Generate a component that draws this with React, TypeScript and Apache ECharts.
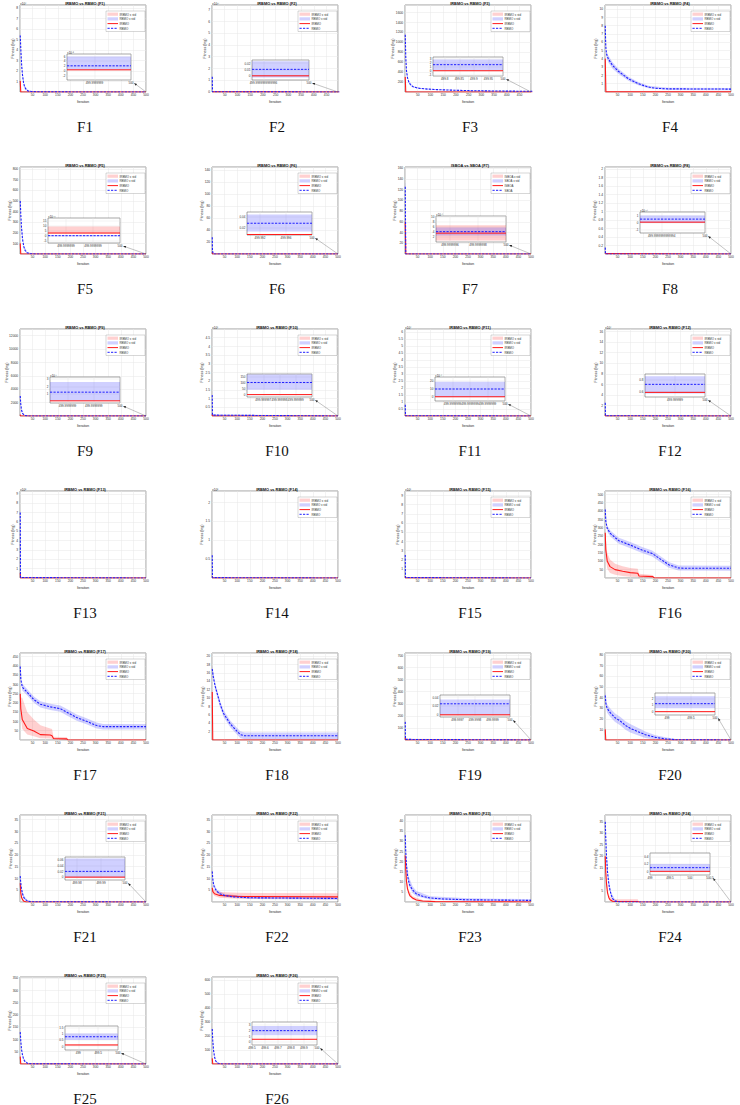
import { useEffect, useRef } from "react";
import * as echarts from "echarts";

// ---- convergence curves: [iteration, mean] and bands: [iteration, low, high] ----
const F1_RBMO = [[1, 5.4], [3, 4.2], [5, 3.2], [7, 2.4], [10, 1.6], [14, 0.9], [18, 0.5], [24, 0.25], [32, 0.1], [45, 0.04], [80, 0.01], [500, 0]];
const F1_RBMO_SD = [[1, 5.0, 5.8], [5, 2.8, 3.6], [10, 1.3, 1.9], [18, 0.35, 0.65], [32, 0.05, 0.15], [80, 0, 0.02], [500, 0, 0]];
const F1_IRBMO = [[1, 1.05], [2.5, 1.05], [3, 0], [500, 0]];
const F1_IRBMO_SD = [[1, 0.9, 1.2], [2.5, 0.9, 1.2], [3, 0, 0], [500, 0, 0]];

const F2_RBMO = [[1, 1.3], [2, 0.02], [500, 0]];
const F2_RBMO_SD = [[1, 1.25, 1.35], [2, 0, 0.03], [500, 0, 0]];
const F2_IRBMO = [[1, 0.01], [500, 0]];
const F2_IRBMO_SD = [[1, 0, 0.02], [500, 0, 0]];

const F3_RBMO = [[1, 1150], [3, 700], [6, 420], [10, 280], [15, 200], [22, 140], [32, 105], [45, 85], [60, 72], [90, 58], [125, 48], [190, 36], [260, 27], [350, 20], [500, 14]];
const F3_RBMO_SD = [[1, 1100, 1200], [6, 390, 450], [15, 180, 220], [32, 90, 120], [60, 62, 82], [125, 40, 56], [260, 21, 33], [500, 10, 18]];
const F3_IRBMO = [[1, 300], [2, 300], [3, 2], [500, 0]];
const F3_IRBMO_SD = [[1, 280, 320], [2, 280, 320], [3, 0, 5], [500, 0, 0]];

const F4_RBMO = [[1, 8], [3, 5.5], [6, 4.6], [13, 4.0], [30, 3.2], [53, 2.5], [93, 1.6], [132, 1.0], [172, 0.6], [200, 0.45], [250, 0.38], [500, 0.35]];
const F4_RBMO_SD = [[1, 7.6, 8.4], [6, 4.2, 5.0], [13, 3.6, 4.4], [30, 2.8, 3.6], [53, 2.2, 2.8], [93, 1.35, 1.85], [132, 0.8, 1.2], [172, 0.45, 0.75], [250, 0.25, 0.5], [500, 0.22, 0.48]];
const F4_IRBMO = [[1, 4], [3, 4], [3.5, 0.02], [500, 0.01]];
const F4_IRBMO_SD = [[1, 0.2, 4.1], [4, 0.2, 4.1], [4.5, 0, 0.02], [500, 0, 0.02]];

const F5_RBMO = [[1, 500], [3, 380], [6, 250], [10, 140], [15, 70], [20, 35], [28, 12], [40, 3], [60, 0.5], [500, 0]];
const F5_RBMO_SD = [[1, 470, 530], [6, 225, 275], [15, 55, 85], [28, 6, 18], [60, 0, 1], [500, 0, 0]];
const F5_IRBMO = [[1, 100], [2, 100], [3, 0], [500, 0]];
const F5_IRBMO_SD = [[1, 90, 110], [2, 90, 110], [3, 0, 0], [500, 0, 0]];

const F6_RBMO = [[1, 28], [2, 5], [4, 1], [10, 0], [500, 0]];
const F6_RBMO_SD = [[1, 24, 32], [2, 3, 7], [10, 0, 0], [500, 0, 0]];
const F6_IRBMO = [[1, 3], [2, 0], [500, 0]];
const F6_IRBMO_SD = [[1, 2, 4], [2, 0, 0], [500, 0, 0]];

const F7_SBOA = [[1, 125], [2, 125], [3, 0], [500, 0]];
const F7_SBOA_SD = [[1, 118, 132], [2, 118, 132], [3, 0, 0], [500, 0, 0]];
const F7_ISBOA = [[1, 60], [2, 60], [3, 0], [500, 0]];
const F7_ISBOA_SD = [[1, 52, 68], [2, 52, 68], [3, 0, 0], [500, 0, 0]];

const F8_RBMO = [[1, 0.15], [2, 0], [500, 0]];
const F8_RBMO_SD = [[1, 0.12, 0.18], [2, 0, 0], [500, 0, 0]];
const F8_IRBMO = [[1, 0.01], [2, 0], [500, 0]];
const F8_IRBMO_SD = [[1, 0, 0.02], [2, 0, 0], [500, 0, 0]];

const F9_RBMO = [[1, 3000], [3, 1800], [6, 900], [10, 400], [18, 100], [30, 10], [500, 0]];
const F9_RBMO_SD = [[1, 2800, 3200], [6, 800, 1000], [18, 70, 130], [30, 0, 20], [500, 0, 0]];
const F9_IRBMO = [[1, 200], [2, 0], [500, 0]];
const F9_IRBMO_SD = [[1, 150, 250], [2, 0, 0], [500, 0, 0]];

const F10_RBMO = [[1, 1.2], [2, 0.05], [500, 0]];
const F10_RBMO_SD = [[1, 1.1, 1.3], [2, 0, 0.1], [500, 0, 0]];
const F10_IRBMO = [[1, 0.1], [2, 0], [500, 0]];
const F10_IRBMO_SD = [[1, 0.05, 0.15], [2, 0, 0], [500, 0, 0]];

const F11_RBMO = [[1, 0.8], [2, 0.02], [500, 0]];
const F11_RBMO_SD = [[1, 0.7, 0.9], [2, 0, 0.04], [500, 0, 0]];
const F11_IRBMO = [[1, 0.1], [2, 0], [500, 0]];
const F11_IRBMO_SD = [[1, 0.05, 0.15], [2, 0, 0], [500, 0, 0]];

const F12_RBMO = [[1, 2.5], [2, 0.05], [500, 0]];
const F12_RBMO_SD = [[1, 2.3, 2.7], [2, 0, 0.1], [500, 0, 0]];
const F12_IRBMO = [[1, 0.3], [2, 0], [500, 0]];
const F12_IRBMO_SD = [[1, 0.2, 0.4], [2, 0, 0], [500, 0, 0]];

const F13_RBMO = [[1, 7], [2, 0.05], [500, 0]];
const F13_RBMO_SD = [[1, 6.5, 7.5], [2, 0, 0.1], [500, 0, 0]];
const F13_IRBMO = [[1, 0.5], [2, 0], [500, 0]];
const F13_IRBMO_SD = [[1, 0.3, 0.7], [2, 0, 0], [500, 0, 0]];

const F14_RBMO = [[1, 0.6], [2, 0.01], [500, 0]];
const F14_RBMO_SD = [[1, 0.55, 0.65], [2, 0, 0.02], [500, 0, 0]];
const F14_IRBMO = [[1, 0.05], [2, 0], [500, 0]];
const F14_IRBMO_SD = [[1, 0.03, 0.07], [2, 0, 0], [500, 0, 0]];

const F15_RBMO = [[1, 2.5], [2, 0.05], [500, 0]];
const F15_RBMO_SD = [[1, 2.3, 2.7], [2, 0, 0.1], [500, 0, 0]];
const F15_IRBMO = [[1, 0.2], [2, 0], [500, 0]];
const F15_IRBMO_SD = [[1, 0.1, 0.3], [2, 0, 0], [500, 0, 0]];

const F16_RBMO = [[1, 409], [3, 340], [9, 295], [22, 265], [55, 223], [108, 192], [147, 167], [187, 147], [213, 120], [253, 79], [292, 60], [320, 58], [500, 58]];
const F16_RBMO_SD = [[1, 390, 428], [9, 277, 313], [22, 247, 283], [55, 205, 241], [108, 174, 210], [147, 149, 185], [187, 129, 165], [213, 102, 138], [253, 62, 96], [292, 45, 75], [500, 43, 73]];
const F16_IRBMO = [[1, 270], [3, 170], [9, 100], [20, 68], [40, 50], [70, 40], [100, 32], [130, 28], [135, 12], [190, 8], [195, 1], [500, 0]];
const F16_IRBMO_SD = [[1, 240, 300], [3, 120, 230], [9, 55, 150], [20, 30, 110], [40, 20, 85], [70, 12, 70], [100, 8, 60], [130, 6, 55], [135, 2, 25], [190, 1, 18], [195, 0, 2], [500, 0, 0]];

const F17_RBMO = [[1, 397], [3, 330], [9, 286], [29, 257], [55, 218], [81, 193], [120, 179], [160, 169], [186, 150], [225, 121], [264, 101], [304, 78], [330, 72], [500, 72]];
const F17_RBMO_SD = [[1, 380, 414], [9, 268, 304], [29, 240, 274], [55, 201, 235], [81, 176, 210], [120, 162, 196], [160, 152, 186], [186, 133, 167], [225, 104, 138], [264, 85, 117], [304, 62, 94], [330, 57, 87], [500, 57, 87]];
const F17_IRBMO = [[1, 250], [3, 170], [9, 111], [29, 62], [55, 49], [81, 29], [120, 27], [127, 23], [133, 8], [186, 6], [190, 0], [500, 0]];
const F17_IRBMO_SD = [[1, 225, 275], [3, 130, 230], [9, 60, 228], [29, 30, 150], [55, 20, 111], [81, 10, 80], [120, 8, 62], [127, 6, 60], [133, 1, 18], [186, 0, 15], [190, 0, 0], [500, 0, 0]];

const F18_RBMO = [[1, 16.9], [5, 15], [13, 12.7], [33, 8.4], [46, 6.3], [73, 3.8], [99, 2.1], [112, 1.3], [130, 1.0], [500, 1.0]];
const F18_RBMO_SD = [[1, 16.1, 17.7], [13, 11.9, 13.5], [33, 7.6, 9.2], [46, 5.5, 7.1], [73, 3.0, 4.6], [99, 1.3, 2.9], [112, 0.5, 2.1], [130, 0.2, 1.8], [500, 0.2, 1.8]];
const F18_IRBMO = [[1, 11.4], [2.5, 11.4], [3, 0], [500, 0]];
const F18_IRBMO_SD = [[1, 10.8, 12], [2.5, 10.8, 12], [3, 0, 0], [500, 0, 0]];

const F19_RBMO = [[1, 150], [2, 5], [500, 0]];
const F19_RBMO_SD = [[1, 135, 165], [2, 0, 10], [500, 0, 0]];
const F19_IRBMO = [[1, 20], [2, 0], [500, 0]];
const F19_IRBMO_SD = [[1, 15, 25], [2, 0, 0], [500, 0, 0]];

const F20_RBMO = [[1, 42], [3, 35], [8, 30], [20, 26], [40, 21], [60, 18], [80, 14], [100, 11], [130, 8], [160, 5], [200, 2.5], [240, 1], [280, 0.3], [500, 0]];
const F20_RBMO_SD = [[1, 38, 46], [8, 26, 34], [20, 22, 30], [40, 17, 25], [60, 14, 22], [80, 10, 18], [100, 7, 15], [130, 4.5, 11.5], [160, 2, 8], [200, 0.5, 4.5], [240, 0, 2.5], [280, 0, 1], [500, 0, 0]];
const F20_IRBMO = [[1, 10], [2, 10], [3, 0], [500, 0]];
const F20_IRBMO_SD = [[1, 8, 12], [2, 8, 12], [3, 0, 0], [500, 0, 0]];

const F21_RBMO = [[1, 11], [3, 8], [6, 5.5], [10, 3.5], [15, 2], [22, 1], [30, 0.4], [45, 0.1], [500, 0]];
const F21_RBMO_SD = [[1, 10, 12], [6, 4.5, 6.5], [15, 1.3, 2.7], [30, 0.1, 0.8], [45, 0, 0.2], [500, 0, 0]];
const F21_IRBMO = [[1, 8], [3, 4], [6, 2], [10, 1], [16, 0.3], [25, 0], [500, 0]];
const F21_IRBMO_SD = [[1, 7, 9], [3, 3, 5], [6, 1.3, 2.7], [10, 0.5, 1.5], [16, 0, 0.6], [25, 0, 0], [500, 0, 0]];

const F22_RBMO = [[1, 13], [3, 10], [6, 7.5], [10, 6], [20, 4.5], [30, 3.5], [50, 2.8], [80, 2.2], [150, 1.8], [500, 1.5]];
const F22_RBMO_SD = [[1, 12, 14], [6, 6.7, 8.3], [20, 3.8, 5.2], [50, 2.2, 3.4], [150, 1.3, 2.3], [500, 1.0, 2.0]];
const F22_IRBMO = [[1, 6], [3, 4.5], [10, 3.5], [30, 2.8], [100, 2.4], [500, 2.2]];
const F22_IRBMO_SD = [[1, 5, 7.5], [3, 3.5, 6], [10, 2.5, 5], [30, 1.8, 4.3], [100, 1.4, 3.9], [500, 1.2, 3.7]];

const F23_RBMO = [[1, 33], [3, 25], [6, 18], [10, 13], [15, 10], [20, 8], [30, 6], [45, 4], [70, 2.8], [100, 2], [150, 1.5], [250, 1.1], [500, 0.8]];
const F23_RBMO_SD = [[1, 31, 35], [6, 16, 20.5], [15, 8, 12.5], [30, 4.5, 7.8], [45, 2.8, 5.4], [100, 1.2, 2.9], [250, 0.5, 1.8], [500, 0.3, 1.4]];
const F23_IRBMO = [[1, 23], [3, 16], [6, 10], [10, 6.5], [15, 4.5], [20, 3], [30, 2], [45, 1], [70, 0.5], [120, 0.2], [500, 0]];
const F23_IRBMO_SD = [[1, 21, 25], [6, 8.5, 11.5], [15, 3.4, 5.8], [30, 1.2, 2.9], [70, 0.1, 1], [120, 0, 0.4], [500, 0, 0.1]];

const F24_RBMO = [[1, 35], [3, 28], [6, 20], [10, 13], [15, 8], [20, 5], [25, 3], [30, 1.5], [40, 0.4], [60, 0], [500, 0]];
const F24_RBMO_SD = [[1, 33, 37], [6, 18, 22], [15, 6.5, 9.5], [25, 2, 4], [40, 0, 1], [60, 0, 0], [500, 0, 0]];
const F24_IRBMO = [[1, 20], [3, 13], [6, 8], [10, 4], [15, 2], [20, 1], [30, 0.3], [40, 0.2], [130, 0.2], [135, 0], [500, 0]];
const F24_IRBMO_SD = [[1, 18, 22], [6, 6.5, 9.5], [15, 1, 3], [30, 0, 1.2], [130, 0, 1.2], [135, 0, 0], [500, 0, 0]];

const F25_RBMO = [[1, 130], [3, 95], [6, 60], [10, 35], [15, 18], [20, 9], [30, 3], [45, 0.5], [500, 0]];
const F25_RBMO_SD = [[1, 122, 138], [6, 54, 66], [15, 14, 22], [30, 1, 5], [45, 0, 1], [500, 0, 0]];
const F25_IRBMO = [[1, 30], [2, 30], [3, 0], [500, 0]];
const F25_IRBMO_SD = [[1, 25, 35], [2, 25, 35], [3, 0, 0], [500, 0, 0]];

const F26_RBMO = [[1, 250], [3, 170], [6, 100], [10, 50], [15, 20], [25, 5], [40, 0], [500, 0]];
const F26_RBMO_SD = [[1, 235, 265], [6, 90, 110], [15, 14, 26], [25, 2, 8], [40, 0, 0], [500, 0, 0]];
const F26_IRBMO = [[1, 40], [2, 40], [3, 0], [500, 0]];
const F26_IRBMO_SD = [[1, 35, 45], [2, 35, 45], [3, 0, 0], [500, 0, 0]];

// ---- magnified views of the final iterations ----
type Zoom = { yMin: number; yMax: number; yTicks: number[]; exp: string; xLabels: string[]; rbmo: number; rbmoSd: number[]; irbmo: number; irbmoSd: number[] };
const F1_ZOOM: Zoom = { yMin: -4, yMax: 7, yTicks: [-2, 0, 2, 4, 6], exp: "×10⁻⁸", xLabels: ["", "", "", "499.9999999", "", "", "", "500"], rbmo: 2, rbmoSd: [0.3, 5.9], irbmo: 0.3, irbmoSd: [0.2, 0.4] };
const F2_ZOOM: Zoom = { yMin: -0.006, yMax: 0.025, yTicks: [0, 0.01, 0.02], exp: "", xLabels: ["", "499.9999999999996", "", "", "", "500"], rbmo: 0.0105, rbmoSd: [-0.002, 0.023], irbmo: 0.0005, irbmoSd: [0, 0.001] };
const F3_ZOOM: Zoom = { yMin: -1.3, yMax: 3.4, yTicks: [-1, 0, 1, 2, 3], exp: "", xLabels: ["", "", "", "", "499.8", "", "", "", "", "499.85", "", "", "", "", "499.9", "", "", "", "", "499.95", "", "", "", "", "500"], rbmo: 1.5, rbmoSd: [0.1, 2.8], irbmo: 0, irbmoSd: [-0.05, 0.05] };
const F5_ZOOM: Zoom = { yMin: -7, yMax: 18, yTicks: [-5, 0, 5, 10, 15], exp: "×10⁻¹¹", xLabels: ["", "", "499.9999999", "", "", "499.9999999", "", "", "500"], rbmo: 0.3, rbmoSd: [-0.3, 0.8], irbmo: 3, irbmoSd: [2, 9.5] };
const F6_ZOOM: Zoom = { yMin: 0.005, yMax: 0.05, yTicks: [0.02, 0.04], exp: "", xLabels: ["", "499.992", "", "499.996", "", "500"], rbmo: 0.028, rbmoSd: [0.012, 0.045], irbmo: 0.006, irbmoSd: [0.005, 0.007] };
const F7_ZOOM: Zoom = { yMin: 0, yMax: 10.3, yTicks: [2, 4, 6, 8, 10], exp: "×10⁻⁴", xLabels: ["", "499.9999996", "", "499.9999998", "", "500"], rbmo: 4.1, rbmoSd: [2.6, 5.7], irbmo: 3.5, irbmoSd: [0.6, 6.6] };
const F8_ZOOM: Zoom = { yMin: -1.5, yMax: 1.6, yTicks: [-1, 0, 1], exp: "×10⁻¹⁶", xLabels: ["", "499.9999999999994", "", "500"], rbmo: 0.55, rbmoSd: [0, 1.1], irbmo: 0.1, irbmoSd: [0.05, 0.15] };
const F9_ZOOM: Zoom = { yMin: -0.3, yMax: 3.3, yTicks: [1, 2, 3], exp: "×10⁻⁵", xLabels: ["", "", "499.9999999", "", "", "499.9999999", "", "", "500"], rbmo: 1.2, rbmoSd: [0, 2.6], irbmo: 0, irbmoSd: [-0.02, 0.02] };
const F10_ZOOM: Zoom = { yMin: -20, yMax: 170, yTicks: [0, 50, 100, 150], exp: "", xLabels: ["", "499.999997", "499.999998", "499.999999", "500"], rbmo: 100, rbmoSd: [40, 165], irbmo: 0, irbmoSd: [-1, 1] };
const F11_ZOOM: Zoom = { yMin: -5, yMax: 25, yTicks: [0, 10, 20], exp: "×10⁻⁴", xLabels: ["", "499.9999999", "499.9999999", "499.9999999", "500"], rbmo: 10, rbmoSd: [0, 19], irbmo: 0.3, irbmoSd: [0, 0.6] };
const F12_ZOOM: Zoom = { yMin: 0.5, yMax: 0.9, yTicks: [0.6, 0.8], exp: "", xLabels: ["", "", "499.999999", "", "500"], rbmo: 0.72, rbmoSd: [0.56, 0.86], irbmo: 0.58, irbmoSd: [0.57, 0.59] };
const F19_ZOOM: Zoom = { yMin: -0.005, yMax: 0.045, yTicks: [0, 0.02, 0.04], exp: "", xLabels: ["", "499.9997", "499.9998", "499.9999", "500"], rbmo: 0.025, rbmoSd: [0, 0.035], irbmo: 0, irbmoSd: [-0.001, 0.001] };
const F20_ZOOM: Zoom = { yMin: -0.5, yMax: 2.8, yTicks: [0, 1, 2], exp: "", xLabels: ["", "499", "", "499.5", "", "500"], rbmo: 1.2, rbmoSd: [0.5, 2.3], irbmo: 0, irbmoSd: [-0.05, 0.05] };
const F21_ZOOM: Zoom = { yMin: -0.01, yMax: 0.07, yTicks: [0, 0.02, 0.04, 0.06], exp: "", xLabels: ["", "499.98", "", "499.99", "", "500"], rbmo: 0.02, rbmoSd: [0, 0.065], irbmo: 0, irbmoSd: [-0.001, 0.001] };
const F24_ZOOM: Zoom = { yMin: -0.1, yMax: 0.5, yTicks: [0, 0.2, 0.4], exp: "", xLabels: ["499", "499.5", "500", "500.5"], rbmo: 0.1, rbmoSd: [0, 0.2], irbmo: 0, irbmoSd: [-0.005, 0.005] };
const F25_ZOOM: Zoom = { yMin: -0.3, yMax: 1.6, yTicks: [0, 0.5, 1, 1.5], exp: "", xLabels: ["", "", "499", "", "", "499.5", "", "", "500"], rbmo: 0.75, rbmoSd: [0.5, 1.0], irbmo: 0.1, irbmoSd: [0.06, 0.14] };
const F26_ZOOM: Zoom = { yMin: -0.5, yMax: 3.5, yTicks: [0, 1, 2, 3], exp: "", xLabels: ["499.5", "499.6", "499.7", "499.8", "499.9", "500"], rbmo: 2, rbmoSd: [1.2, 2.8], irbmo: 0.5, irbmoSd: [0.45, 0.55] };

type Panel = {
  id: string; algo: string; base: string; yMax: number; yStep: number; yZero?: boolean; yExp: string; xMax: number;
  mean: number[][]; band: number[][]; imean: number[][]; iband: number[][]; zoom?: Zoom; noLegend?: boolean;
};

const PANELS: Panel[] = [
  { id: "F1", algo: "IRBMO", base: "RBMO", yMax: 8.3, yStep: 1, yExp: "×10⁴", xMax: 500, mean: F1_RBMO, band: F1_RBMO_SD, imean: F1_IRBMO, iband: F1_IRBMO_SD, zoom: F1_ZOOM },
  { id: "F2", algo: "IRBMO", base: "RBMO", yMax: 7.4, yStep: 1, yZero: true, yExp: "×10¹⁷", xMax: 495, mean: F2_RBMO, band: F2_RBMO_SD, imean: F2_IRBMO, iband: F2_IRBMO_SD, zoom: F2_ZOOM },
  { id: "F3", algo: "IRBMO", base: "RBMO", yMax: 1750, yStep: 200, yExp: "", xMax: 495, mean: F3_RBMO, band: F3_RBMO_SD, imean: F3_IRBMO, iband: F3_IRBMO_SD, zoom: F3_ZOOM },
  { id: "F4", algo: "IRBMO", base: "RBMO", yMax: 10.5, yStep: 1, yExp: "", xMax: 500, mean: F4_RBMO, band: F4_RBMO_SD, imean: F4_IRBMO, iband: F4_IRBMO_SD },
  { id: "F5", algo: "IRBMO", base: "RBMO", yMax: 820, yStep: 100, yExp: "", xMax: 500, mean: F5_RBMO, band: F5_RBMO_SD, imean: F5_IRBMO, iband: F5_IRBMO_SD, zoom: F5_ZOOM },
  { id: "F6", algo: "IRBMO", base: "RBMO", yMax: 145, yStep: 20, yExp: "", xMax: 500, mean: F6_RBMO, band: F6_RBMO_SD, imean: F6_IRBMO, iband: F6_IRBMO_SD, zoom: F6_ZOOM },
  { id: "F7", algo: "ISBOA", base: "SBOA", yMax: 162, yStep: 20, yExp: "", xMax: 500, mean: F7_SBOA, band: F7_SBOA_SD, imean: F7_ISBOA, iband: F7_ISBOA_SD, zoom: F7_ZOOM },
  { id: "F8", algo: "IRBMO", base: "RBMO", yMax: 2.05, yStep: 0.2, yExp: "", xMax: 500, mean: F8_RBMO, band: F8_RBMO_SD, imean: F8_IRBMO, iband: F8_IRBMO_SD, zoom: F8_ZOOM },
  { id: "F9", algo: "IRBMO", base: "RBMO", yMax: 13000, yStep: 2000, yExp: "", xMax: 500, mean: F9_RBMO, band: F9_RBMO_SD, imean: F9_IRBMO, iband: F9_IRBMO_SD, zoom: F9_ZOOM },
  { id: "F10", algo: "IRBMO", base: "RBMO", yMax: 5, yStep: 0.5, yExp: "×10⁶", xMax: 500, mean: F10_RBMO, band: F10_RBMO_SD, imean: F10_IRBMO, iband: F10_IRBMO_SD, zoom: F10_ZOOM },
  { id: "F11", algo: "IRBMO", base: "RBMO", yMax: 6.2, yStep: 0.5, yExp: "×10⁴", xMax: 500, mean: F11_RBMO, band: F11_RBMO_SD, imean: F11_IRBMO, iband: F11_IRBMO_SD, zoom: F11_ZOOM },
  { id: "F12", algo: "IRBMO", base: "RBMO", yMax: 16.5, yStep: 2, yExp: "×10⁴", xMax: 500, mean: F12_RBMO, band: F12_RBMO_SD, imean: F12_IRBMO, iband: F12_IRBMO_SD, zoom: F12_ZOOM },
  { id: "F13", algo: "IRBMO", base: "RBMO", yMax: 9.3, yStep: 1, yExp: "×10⁸", xMax: 500, mean: F13_RBMO, band: F13_RBMO_SD, imean: F13_IRBMO, iband: F13_IRBMO_SD, noLegend: true },
  { id: "F14", algo: "IRBMO", base: "RBMO", yMax: 2.3, yStep: 0.5, yExp: "×10⁸", xMax: 500, mean: F14_RBMO, band: F14_RBMO_SD, imean: F14_IRBMO, iband: F14_IRBMO_SD },
  { id: "F15", algo: "IRBMO", base: "RBMO", yMax: 9.5, yStep: 1, yExp: "×10⁶", xMax: 500, mean: F15_RBMO, band: F15_RBMO_SD, imean: F15_IRBMO, iband: F15_IRBMO_SD },
  { id: "F16", algo: "IRBMO", base: "RBMO", yMax: 520, yStep: 50, yExp: "", xMax: 500, mean: F16_RBMO, band: F16_RBMO_SD, imean: F16_IRBMO, iband: F16_IRBMO_SD },
  { id: "F17", algo: "IRBMO", base: "RBMO", yMax: 470, yStep: 50, yExp: "", xMax: 500, mean: F17_RBMO, band: F17_RBMO_SD, imean: F17_IRBMO, iband: F17_IRBMO_SD },
  { id: "F18", algo: "IRBMO", base: "RBMO", yMax: 20.7, yStep: 2, yExp: "", xMax: 500, mean: F18_RBMO, band: F18_RBMO_SD, imean: F18_IRBMO, iband: F18_IRBMO_SD },
  { id: "F19", algo: "IRBMO", base: "RBMO", yMax: 720, yStep: 100, yExp: "", xMax: 500, mean: F19_RBMO, band: F19_RBMO_SD, imean: F19_IRBMO, iband: F19_IRBMO_SD, zoom: F19_ZOOM },
  { id: "F20", algo: "IRBMO", base: "RBMO", yMax: 82, yStep: 10, yExp: "", xMax: 500, mean: F20_RBMO, band: F20_RBMO_SD, imean: F20_IRBMO, iband: F20_IRBMO_SD, zoom: F20_ZOOM },
  { id: "F21", algo: "IRBMO", base: "RBMO", yMax: 37, yStep: 5, yExp: "", xMax: 500, mean: F21_RBMO, band: F21_RBMO_SD, imean: F21_IRBMO, iband: F21_IRBMO_SD, zoom: F21_ZOOM },
  { id: "F22", algo: "IRBMO", base: "RBMO", yMax: 37, yStep: 5, yExp: "", xMax: 500, mean: F22_RBMO, band: F22_RBMO_SD, imean: F22_IRBMO, iband: F22_IRBMO_SD },
  { id: "F23", algo: "IRBMO", base: "RBMO", yMax: 43, yStep: 5, yExp: "", xMax: 500, mean: F23_RBMO, band: F23_RBMO_SD, imean: F23_IRBMO, iband: F23_IRBMO_SD },
  { id: "F24", algo: "IRBMO", base: "RBMO", yMax: 38, yStep: 5, yExp: "", xMax: 500, mean: F24_RBMO, band: F24_RBMO_SD, imean: F24_IRBMO, iband: F24_IRBMO_SD, zoom: F24_ZOOM },
  { id: "F25", algo: "IRBMO", base: "RBMO", yMax: 355, yStep: 50, yExp: "", xMax: 500, mean: F25_RBMO, band: F25_RBMO_SD, imean: F25_IRBMO, iband: F25_IRBMO_SD, zoom: F25_ZOOM },
  { id: "F26", algo: "IRBMO", base: "RBMO", yMax: 620, yStep: 100, yExp: "", xMax: 500, mean: F26_RBMO, band: F26_RBMO_SD, imean: F26_IRBMO, iband: F26_IRBMO_SD, zoom: F26_ZOOM },
];

// ---- layout (pixels) ----
const PAGE_W = 740;
const PAGE_H = 1105;
const COL_LEFT = [20, 212, 405, 605];
const PLOT_W = 126;
const PLOT_H = 87;
const ROW_TOP0 = 5;
const ROW_STEP = 162;
// magnifier box inside each axes: [left, right, top, bottom] relative to the axes corner
const INSET_BOX: Record<string, number[]> = {
  F1: [47, 111, 49, 75], F2: [40, 97, 55, 75], F3: [28, 98, 52, 71], F5: [28, 100, 51, 76],
  F6: [35, 100, 45, 68], F7: [31, 101, 49, 75], F8: [35, 100, 45, 66], F9: [30, 100, 48, 74],
  F10: [35, 100, 45, 68], F11: [30, 100, 48, 72], F12: [40, 100, 45, 68], F19: [35, 105, 42, 64],
  F20: [50, 110, 40, 62], F21: [45, 105, 42, 65], F24: [45, 105, 38, 60], F25: [45, 98, 49, 73],
  F26: [40, 105, 45, 68],
};

const RED = "#ff1a1a";
const BLUE = "#1f1fff";
const PINK = "rgba(255, 40, 40, 0.22)";
const LAV = "rgba(40, 40, 255, 0.22)";
const GRID_LINE = "#e6e6e6";
const FRAME = "#3a3a3a";
const SANS = "'Liberation Sans', Arial, sans-serif";
const TICK_FS = 3.3;

const fmt = (v: number) => String(+Number(v).toFixed(8));

function bandSeries(xi: number, pts: number[][], color: string, z: number) {
  return {
    type: "custom",
    xAxisIndex: xi,
    yAxisIndex: xi,
    clip: true,
    silent: true,
    z,
    encode: { x: 0, y: [1, 2] },
    data: pts,
    renderItem: (params: any, api: any) => {
      if (params.dataIndex !== 0) return null;
      const upper = pts.map((p) => api.coord([p[0], p[2]]));
      const lower = pts.slice().reverse().map((p) => api.coord([p[0], p[1]]));
      return { type: "polygon", shape: { points: upper.concat(lower) }, style: { fill: color, stroke: "none" } };
    },
  };
}

function lineSeries(xi: number, pts: number[][], color: string, dashed: boolean, width: number, z: number) {
  return {
    type: "line",
    xAxisIndex: xi,
    yAxisIndex: xi,
    data: pts,
    symbol: "none",
    showSymbol: false,
    clip: true,
    silent: true,
    z,
    lineStyle: { color, width, type: dashed ? [2.2, 1.3] : "solid" },
  };
}

function text(x: number, y: number, s: string, opts: any = {}) {
  return {
    type: "text",
    x,
    y,
    z: 50,
    silent: true,
    rotation: opts.rotation || 0,
    style: {
      text: s,
      font: opts.font || `${TICK_FS}px ${SANS}`,
      fill: opts.fill || "#262626",
      textAlign: opts.align || "left",
      textVerticalAlign: opts.valign || "middle",
    },
  };
}

function buildOption() {
  const grid: any[] = [];
  const xAxis: any[] = [];
  const yAxis: any[] = [];
  const series: any[] = [];
  const graphic: any[] = [];

  PANELS.forEach((p, i) => {
    const r = Math.floor(i / 4);
    const c = i % 4;
    const left = COL_LEFT[c];
    const top = ROW_TOP0 + r * ROW_STEP;
    const gi = grid.length;

    grid.push({ left, top, width: PLOT_W, height: PLOT_H, show: true, borderColor: FRAME, borderWidth: 0.5, backgroundColor: "#fff", z: 0 });
    xAxis.push({
      gridIndex: gi, type: "value", min: 0, max: p.xMax, interval: 50,
      axisLine: { show: false }, axisTick: { show: false },
      splitLine: { show: true, lineStyle: { color: GRID_LINE, width: 0.5 } },
      axisLabel: { fontSize: TICK_FS, color: "#333", margin: 1.8, fontFamily: SANS, showMinLabel: false, showMaxLabel: p.xMax === 500, formatter: fmt },
    });
    yAxis.push({
      gridIndex: gi, type: "value", min: 0, max: p.yMax, interval: p.yStep,
      axisLine: { show: false }, axisTick: { show: false },
      splitLine: { show: true, lineStyle: { color: GRID_LINE, width: 0.5 } },
      axisLabel: { fontSize: TICK_FS, color: "#333", margin: 1.8, fontFamily: SANS, showMinLabel: !!p.yZero, showMaxLabel: false, formatter: fmt },
    });
    series.push(bandSeries(gi, p.iband, PINK, 2));
    series.push(bandSeries(gi, p.band, LAV, 2));
    series.push(lineSeries(gi, p.imean, RED, false, 1.1, 3));
    series.push(lineSeries(gi, p.mean, BLUE, true, 1.1, 4));

    // title, axis names, exponent, panel tag
    graphic.push(text(left + PLOT_W / 2 + 2, top - 1.2, `${p.algo} vs ${p.base} (${p.id})`, { align: "center", font: `bold 3.9px ${SANS}`, fill: "#111" }));
    graphic.push(text(left + PLOT_W / 2, top + PLOT_H + 10.3, "Iteration", { align: "center", font: `3.4px ${SANS}` }));
    const maxLabel = Math.max(...Array.from({ length: Math.floor(p.yMax / p.yStep) }, (_, k) => fmt((k + 1) * p.yStep).length));
    graphic.push(text(left - 5.5 - 1.6 * maxLabel, top + PLOT_H / 2, "Fitness (log)", { align: "center", rotation: Math.PI / 2, font: `3.6px ${SANS}` }));
    if (p.yExp) graphic.push(text(left, top - 1.8, p.yExp, { font: `3px ${SANS}`, valign: "middle" }));
    graphic.push(text(left + PLOT_W / 2 + 2, top + 122, p.id, { align: "center", font: `15px 'Liberation Serif', 'Times New Roman', serif`, fill: "#111" }));

    // legend box
    if (!p.noLegend) {
      const lx = left + PLOT_W - 40;
      const ly = top + 6;
      graphic.push({ type: "rect", z: 40, silent: true, shape: { x: lx, y: ly, width: 39, height: 20.5 }, style: { fill: "#fff", stroke: "#8a8a8a", lineWidth: 0.35 } });
      const rows = [
        { kind: "fill", color: PINK, label: `${p.algo} ± std` },
        { kind: "fill", color: LAV, label: `${p.base} ± std` },
        { kind: "solid", color: RED, label: p.algo },
        { kind: "dash", color: BLUE, label: p.base },
      ];
      rows.forEach((row, k) => {
        const cy = ly + 3.2 + k * 4.7;
        if (row.kind === "fill") {
          graphic.push({ type: "rect", z: 41, silent: true, shape: { x: lx + 1.5, y: cy - 1.6, width: 10.5, height: 3.2 }, style: { fill: row.color } });
        } else if (row.kind === "solid") {
          graphic.push({ type: "rect", z: 41, silent: true, shape: { x: lx + 1.5, y: cy - 0.5, width: 10.5, height: 1 }, style: { fill: row.color } });
        } else {
          graphic.push({ type: "line", z: 41, silent: true, shape: { x1: lx + 1.5, y1: cy, x2: lx + 12, y2: cy }, style: { stroke: row.color, lineWidth: 1, lineDash: [2.2, 1.3] } });
        }
        graphic.push(text(lx + 13.5, cy, row.label, { font: `2.9px ${SANS}`, fill: "#333" }));
      });
    }

    // magnified end-of-run view
    const zm = p.zoom;
    const box = INSET_BOX[p.id];
    if (zm && box) {
      const zi = grid.length;
      const ix = left + box[0];
      const iy = top + box[2];
      const iw = box[1] - box[0];
      const ih = box[3] - box[2];
      grid.push({ left: ix, top: iy, width: iw, height: ih, show: true, borderColor: FRAME, borderWidth: 0.45, backgroundColor: "#fff", z: 20 });
      const labels = zm.xLabels;
      const keep = (_: number, v: string) => v !== "";
      xAxis.push({
        gridIndex: zi, type: "category", data: labels, boundaryGap: false, z: 21,
        axisLine: { show: false }, axisTick: { show: false },
        splitLine: { show: true, interval: keep, lineStyle: { color: GRID_LINE, width: 0.45 } },
        axisLabel: { interval: keep, fontSize: 3, color: "#333", margin: 1.6, fontFamily: SANS },
      });
      yAxis.push({
        gridIndex: zi, type: "value", min: zm.yMin, max: zm.yMax, z: 21,
        axisLine: { show: false }, axisTick: { show: false, customValues: zm.yTicks },
        splitLine: { show: true, customValues: zm.yTicks, lineStyle: { color: GRID_LINE, width: 0.45 } },
        axisLabel: { customValues: zm.yTicks, fontSize: 3, color: "#333", margin: 1.6, fontFamily: SANS, formatter: fmt },
      });
      const last = labels.length - 1;
      series.push(bandSeries(zi, [[0, zm.irbmoSd[0], zm.irbmoSd[1]], [last, zm.irbmoSd[0], zm.irbmoSd[1]]], PINK, 22));
      series.push(bandSeries(zi, [[0, zm.rbmoSd[0], zm.rbmoSd[1]], [last, zm.rbmoSd[0], zm.rbmoSd[1]]], LAV, 22));
      series.push(lineSeries(zi, [[0, zm.irbmo], [last, zm.irbmo]], RED, false, 1.0, 23));
      series.push(lineSeries(zi, [[0, zm.rbmo], [last, zm.rbmo]], BLUE, true, 1.0, 24));
      if (zm.exp) graphic.push(text(ix, iy - 1.8, zm.exp, { font: `2.8px ${SANS}` }));

      // pointer from the plot's end corner to the magnifier
      const x1 = left + PLOT_W;
      const y1 = top + PLOT_H;
      const x2 = ix + iw + 3;
      const y2 = iy + ih + 3;
      const ang = Math.atan2(y2 - y1, x2 - x1);
      const hl = 3;
      const hw = 1.1;
      const bx = x2 - hl * Math.cos(ang);
      const by = y2 - hl * Math.sin(ang);
      graphic.push({ type: "line", z: 45, silent: true, shape: { x1, y1, x2: bx, y2: by }, style: { stroke: "#555", lineWidth: 0.35 } });
      graphic.push({
        type: "polygon", z: 45, silent: true,
        shape: { points: [[x2, y2], [bx - hw * Math.sin(ang), by + hw * Math.cos(ang)], [bx + hw * Math.sin(ang), by - hw * Math.cos(ang)]] },
        style: { fill: "#222" },
      });
    }
  });

  return { animation: false, backgroundColor: "#fff", grid, xAxis, yAxis, series, graphic };
}

export default function App() {
  const ref = useRef<HTMLDivElement>(null);
  useEffect(() => {
    document.body.style.margin = "0";
    const chart = echarts.init(ref.current as HTMLDivElement, undefined, { renderer: "svg" });
    chart.setOption(buildOption() as any);
    return () => chart.dispose();
  }, []);
  return <div ref={ref} style={{ width: PAGE_W, height: PAGE_H }} />;
}
